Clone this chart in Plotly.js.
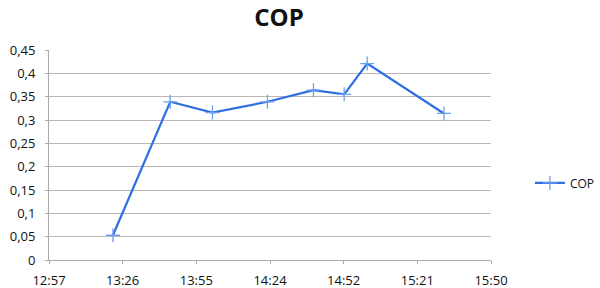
<!DOCTYPE html>
<html>
<head>
<meta charset="utf-8">
<script src="https://cdn.plot.ly/plotly-3.0.1.min.js"></script>
<style>html,body{margin:0;padding:0;background:#fff;}#chart{width:600px;height:288px;}</style>
</head>
<body>
<div id="chart"></div>
<script>
var times = ['2020-01-01 13:22:36','2020-01-01 13:45:00','2020-01-01 14:01:30','2020-01-01 14:23:00','2020-01-01 14:41:00','2020-01-01 14:53:00','2020-01-01 15:02:00','2020-01-01 15:32:00'];
var cop = [0.053, 0.339, 0.316, 0.339, 0.364, 0.355, 0.421, 0.314];
var xTickVals = ['2020-01-01 12:57:36','2020-01-01 13:26:24','2020-01-01 13:55:12','2020-01-01 14:24:00','2020-01-01 14:52:48','2020-01-01 15:21:36','2020-01-01 15:50:24'];
var xTickText = ['12:57','13:26','13:55','14:24','14:52','15:21','15:50'];
var yTickVals = [0,0.05,0.1,0.15,0.2,0.25,0.3,0.35,0.4,0.45];
var yTickText = ['0','0,05','0,1','0,15','0,2','0,25','0,3','0,35','0,4','0,45'];

var trace = {
  x: times, y: cop, name: 'COP', type: 'scatter', mode: 'lines+markers',
  line: {color: '#2f6fe0', width: 2.2},
  marker: {symbol: 'cross-thin-open', size: 10, line: {color: '#6fa0ef', width: 1.3}, color: '#6fa0ef'}
};
var layout = {
  width: 600, height: 288,
  margin: {l: 49, r: 109, t: 50, b: 28, autoexpand: false},
  paper_bgcolor: '#fff', plot_bgcolor: '#fff',
  font: {family: 'Open Sans, sans-serif', size: 13, color: '#111'},
  title: {text: '<b>COP</b>', x: 0.465, xanchor: 'center', y: 0.94, yanchor: 'middle', font: {size: 24, color: '#111', family: 'Open Sans, sans-serif'}},
  showlegend: true,
  legend: {x: 1.088, xanchor: 'left', y: 0.367, yanchor: 'middle', font: {size: 12, color: '#111'}, bgcolor: 'rgba(0,0,0,0)'},
  xaxis: {type: 'date', range: [xTickVals[0], xTickVals[6]], tickmode: 'array', tickvals: xTickVals, ticktext: xTickText,
          showgrid: false, showline: true, linecolor: '#aaa', linewidth: 1, ticks: 'outside', ticklen: 3, tickcolor: '#aaa',
          ticklabelstandoff: 5, tickfont: {size: 13, color: '#111'}, zeroline: false},
  yaxis: {range: [0, 0.45], tickmode: 'array', tickvals: yTickVals, ticktext: yTickText,
          showgrid: true, gridcolor: '#bdb6b8', gridwidth: 1, showline: true, linecolor: '#aaa', linewidth: 1,
          ticks: 'outside', ticklen: 3, tickcolor: '#aaa', ticklabelstandoff: 7, tickfont: {size: 13, color: '#111'}, zeroline: false}
};
Plotly.newPlot('chart', [trace], layout, {displayModeBar: false, staticPlot: true});
</script>
</body>
</html>
